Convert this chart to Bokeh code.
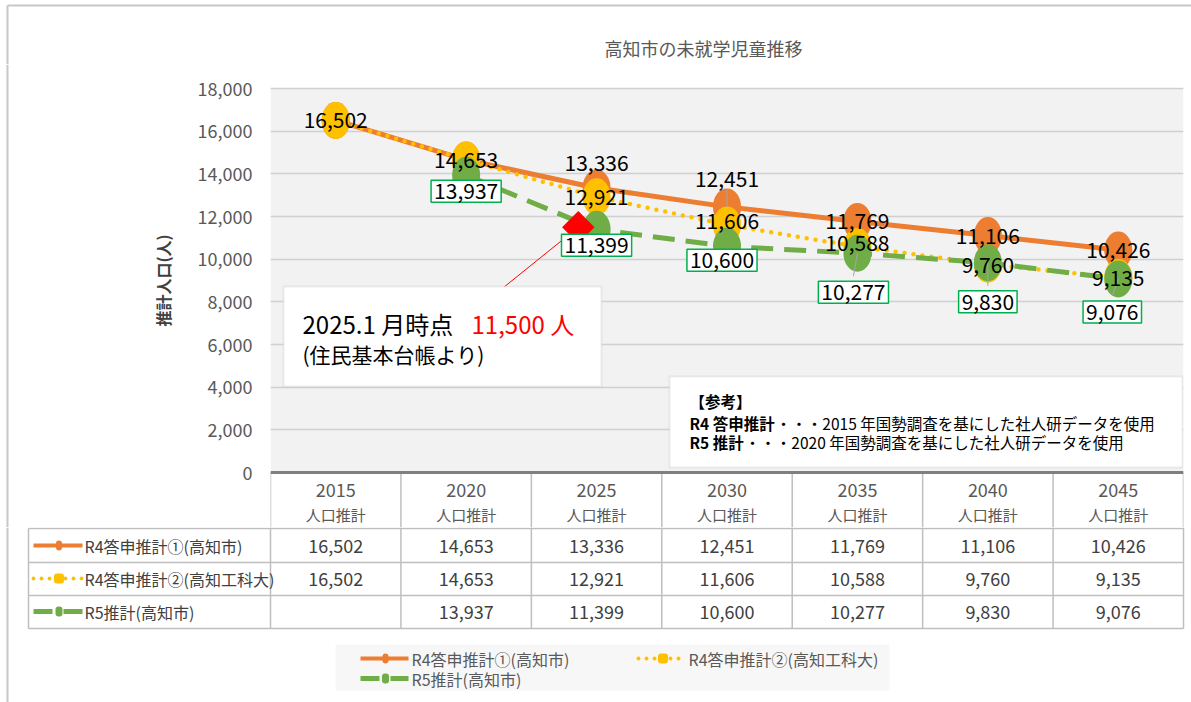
import numpy as np
from bokeh.plotting import figure
from bokeh.layouts import column, row
from bokeh.models import (ColumnDataSource, FactorRange, Range1d, Label, BoxAnnotation,
                          Arrow, Span, FixedTicker, NumeralTickFormatter)
from bokeh.transform import dodge
from bokeh.embed import file_html
from bokeh.resources import INLINE

# ---------------- data ----------------
years = ["2015", "2020", "2025", "2030", "2035", "2040", "2045"]
year_sub = "人口推計"
series_names = ["R4答申推計①(高知市)", "R4答申推計②(高知工科大)", "R5推計(高知市)"]
r4_city = [16502, 14653, 13336, 12451, 11769, 11106, 10426]
r4_kut = [16502, 14653, 12921, 11606, 10588, 9760, 9135]
r5_city = [None, 13937, 11399, 10600, 10277, 9830, 9076]
y_ticks = [0, 2000, 4000, 6000, 8000, 10000, 12000, 14000, 16000, 18000]
current_year = "2025"
current_value = 11500
title_text = "高知市の未就学児童推移"
y_title = "推計人口(人)"
note_current_1 = "2025.1 月時点"
note_current_unit = "人"
note_current_2 = "(住民基本台帳より)"
ref_head = "【参考】"
ref_bold = ["R4 答申推計", "R5 推計"]
ref_rest = ["・・・2015 年国勢調査を基にした社人研データを使用",
            "・・・2020 年国勢調査を基にした社人研データを使用"]

# ---------------- layout / style ----------------
W, H = 1191, 702
FL, FR, FT, FB = 270, 1183, 88, 472      # plot area in page pixels
HEAD_H = 64                               # header strip height
SPLIT = 527                               # chart (incl. table header) / table boundary
LEFT_W = 180                              # left strip width
NC = len(years)
COLW = (FR - FL) / NC
YMAX = y_ticks[-1]
DPU = YMAX / (FB - FT)


def X(px):
    return (px - FL) / COLW


def Y(py):
    return (FB - py) * DPU


FONT = "Noto Sans CJK JP"
ORANGE, YELLOW, GREEN = "#ED7D31", "#FFC000", "#70AD47"
GRID = "#bfbfbf"
FRAME = "#c8c8c8"

# label offsets in pixels (up positive)
off_city = [0, 0, 25, 28, 0, 0, 0]
off_kut = [0, 0, 0, 4, 4, -1, 0]
off_r5 = [0, -16, -16, -14, -39, -39, -33]
dx_r5 = [0, 0, 0, -5, -4, 0, -6]
lead_city = [False, False, False, True, False, False, False]
lead_r5 = [False, False, False, False, True, True, True]


def seg(f, x0, y0, x1, y1, color=GRID, width=1.5, dash="solid", cap="butt"):
    f.add_layout(Arrow(end=None, x_start=x0, y_start=y0, x_end=x1, y_end=y1,
                       line_color=color, line_width=width, line_dash=dash, line_cap=cap))


def box(f, l, t, r, b, fill="white", line=None, lw=1.5, radius=0, level="annotation"):
    f.add_layout(BoxAnnotation(left=l, right=r, top=t, bottom=b, fill_color=fill,
                               fill_alpha=1, line_color=line, line_width=lw,
                               border_radius=radius, level=level))


def text(f, x, y, s, size, color="#404040", align="left", style="normal", base="middle",
         angle=0):
    lab = Label(x=x, y=y, text=s, text_font=FONT, text_font_size=size, text_color=color,
                text_align=align, text_baseline=base, text_font_style=style, angle=angle)
    f.add_layout(lab)
    return lab


def page_fig(w, h, xr, yr):
    f = figure(width=w, height=h, x_range=xr, y_range=yr, min_border=0,
               x_axis_location=None, y_axis_location=None, toolbar_location=None,
               output_backend="svg", outline_line_color=None,
               background_fill_color="white", border_fill_color="white")
    f.xgrid.visible = False
    f.ygrid.visible = False
    return f


# ================= header strip =================
head = page_fig(W, HEAD_H, Range1d(0, W), Range1d(HEAD_H, 0))
seg(head, 7, 5, W, 5, color=FRAME, width=2)
seg(head, 7, 5, 7, HEAD_H, color=FRAME, width=2)
text(head, 703, 47, title_text, "18px", color="#595959", align="center")

# ================= left strip =================
left = page_fig(LEFT_W, SPLIT - HEAD_H, Range1d(0, LEFT_W), Range1d(SPLIT, HEAD_H))
seg(left, 7, HEAD_H, 7, SPLIT, color=FRAME, width=2)
text(left, 162, 280, y_title, "16px", color="#404040", align="center", style="bold",
     angle=np.pi / 2)

# ================= chart (with table header row) =================
p = figure(width=W - LEFT_W, height=SPLIT - HEAD_H, x_range=FactorRange(factors=years),
           y_range=Range1d(Y(SPLIT), Y(HEAD_H)),
           min_border_left=FL - LEFT_W, min_border_right=W - FR, min_border_top=0,
           min_border_bottom=0, x_axis_location=None, toolbar_location=None,
           output_backend="svg", background_fill_color="white", border_fill_color="white",
           outline_line_color=None)
p.xgrid.visible = False
p.ygrid.grid_line_color = "#d0d0d0"
p.ygrid.grid_line_width = 1.5
ya = p.yaxis[0]
ya.ticker = FixedTicker(ticks=y_ticks)
ya.formatter = NumeralTickFormatter(format="0,0")
ya.axis_line_color = None
ya.major_tick_line_color = None
ya.minor_tick_line_color = None
ya.major_label_text_font = FONT
ya.major_label_text_font_size = "18px"
ya.major_label_text_color = "#595959"
ya.major_label_standoff = 12

# plot-area background (0 .. YMAX)
box(p, 0, YMAX, NC, 0, fill="#f2f2f2", level="image")

src = ColumnDataSource(dict(x=years, a=r4_city, b=r4_kut,
                            c=np.array(r5_city, dtype=float)))
p.line("x", "a", source=src, line_color=ORANGE, line_width=5, line_cap="round")
p.line("x", "b", source=src, line_color=YELLOW, line_width=4.5, line_dash="0 9",
       line_cap="round")
p.line("x", "c", source=src, line_color=GREEN, line_width=5, line_dash="22 11")
for col, c in (("a", ORANGE), ("b", YELLOW), ("c", GREEN)):
    p.ellipse(x="x", y=col, source=src, width=28, height=37, width_units="screen",
              height_units="screen", fill_color=c, line_color=None)

# current-value diamond
dsrc = ColumnDataSource(dict(x=[current_year], y=[current_value]))
p.scatter(x=dodge("x", -0.14, range=p.x_range), y="y", source=dsrc, marker="square",
          angle=np.pi / 4, size=23, fill_color="#FF0000", line_color=None)

# table header row (inside this figure)
for k in range(NC + 1):
    seg(p, k, 0, k, Y(SPLIT))
p.add_layout(Span(location=0, dimension="width", line_color="#7f7f7f", line_width=3))
for j, yr in enumerate(years):
    text(p, j + 0.5, Y(489), yr, "18px", color="#595959", align="center")
    text(p, j + 0.5, Y(514), year_sub, "15px", color="#595959", align="center")

# ---- current value note ----
ci = years.index(current_year)
seg(p, ci + 0.5 - 0.14, current_value, X(503), Y(287), color="#FF0000", width=1)
box(p, X(283), Y(286), X(601), Y(386), fill="white", line="#c0c0c0", lw=2)
text(p, X(302), Y(323), note_current_1, "24px", color="black")
text(p, X(471), Y(323), f"{current_value:,} {note_current_unit}", "24px", color="#FF0000")
text(p, X(302), Y(353), note_current_2, "21px", color="black")

# ---- reference note ----
box(p, X(669), Y(376), X(1182), Y(467), fill="white", line="#c0c0c0", lw=2)
RS = 15.5
text(p, X(689), Y(400), ref_head, f"{RS}px", color="black", style="bold")
for k in range(2):
    yy = 422 + 19 * k
    text(p, X(689), Y(yy), ref_bold[k], f"{RS}px", color="black", style="bold")
    bw = RS * (1.44 + len(ref_bold[k]) - 3)
    text(p, X(689 + bw + 2), Y(yy), ref_rest[k], f"{RS}px", color="black")

# ---- data labels ----
for j, v in enumerate(r4_city):
    if lead_city[j]:
        seg(p, j + 0.5, v, j + 0.5, v + (off_city[j] - 10) * DPU, color="#a6a6a6", width=1)
for j, v in enumerate(r5_city):
    if v is not None and lead_r5[j]:
        xx = j + 0.5 + dx_r5[j] / COLW
        seg(p, j + 0.5, v, xx, v + (off_r5[j] + 16) * DPU, color="#a6a6a6", width=1)

LS = "21px"
for j, v in enumerate(r4_city):
    text(p, j + 0.5, v + off_city[j] * DPU, f"{v:,}", LS, color="black", align="center")
for j, v in enumerate(r4_kut):
    if v != r4_city[j]:
        text(p, j + 0.5, v + off_kut[j] * DPU, f"{v:,}", LS, color="black",
             align="center")
for j, v in enumerate(r5_city):
    if v is None:
        continue
    lab = text(p, j + 0.5 + dx_r5[j] / COLW, v + off_r5[j] * DPU, f"{v:,}", LS,
               color="black", align="center")
    lab.background_fill_color = "white"
    lab.border_line_color = "#00B050"
    lab.border_line_width = 1.5
    lab.padding = 3

# ================= table body + legend =================
t = page_fig(W, H - SPLIT, Range1d(X(0), X(W)), Range1d(H, SPLIT))
seg(t, X(7), SPLIT, X(7), H, color=FRAME, width=2)
row_y = [545, 578, 611]
for yy in (528, 562, 595, 628):
    seg(t, X(28), yy, NC, yy)
seg(t, X(28), 528, X(28), 628)
for k in range(NC + 1):
    seg(t, k, SPLIT, k, 628)

styles = [(ORANGE, "solid", 4, "butt", 6), (YELLOW, "0 8", 4, "round", 10),
          (GREEN, "19 11", 5, "butt", 7)]


def swatch(px0, px1, py, st):
    c, dash, w, cap, mw = st
    seg(t, X(px0), py, X(px1), py, color=c, width=w, dash=dash, cap=cap)
    mid = (px0 + px1) / 2 + 1
    box(t, X(mid - mw / 2), py - 5, X(mid + mw / 2), py + 5, fill=c, radius=3)


all_series = [r4_city, r4_kut, r5_city]
for i, (name, vals) in enumerate(zip(series_names, all_series)):
    swatch(33, 82, row_y[i], styles[i])
    text(t, X(84), row_y[i], name, "16px", color="#404040")
    for j, v in enumerate(vals):
        if v is not None:
            text(t, j + 0.5, row_y[i], f"{v:,}", "18px", color="#404040", align="center")

box(t, X(335), 644, X(889), 690, fill="#f7f7f7")
leg_pos = [(360, 408, 658), (638, 685, 658), (360, 408, 678)]
for i, name in enumerate(series_names):
    x0, x1, yy = leg_pos[i]
    swatch(x0, x1, yy, styles[i])
    text(t, X(x1 + 3), yy, name, "16px", color="#595959")

layout = column(head, row(left, p), t)
open("out.html", "w").write(file_html(layout, INLINE))
